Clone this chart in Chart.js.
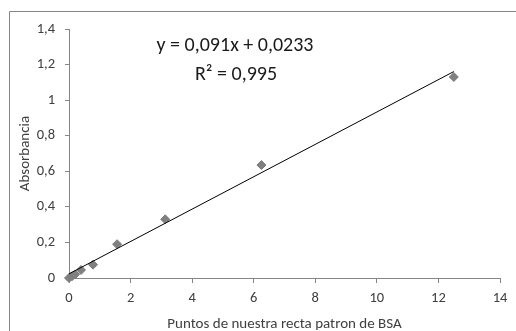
<!DOCTYPE html>
<html>
<head>
<meta charset="utf-8">
<script src="https://cdn.jsdelivr.net/npm/chart.js@4/dist/chart.umd.min.js"></script>
<style>
  html, body { margin: 0; padding: 0; background: #fff; }
  canvas { display: block; }
</style>
</head>
<body>
<canvas id="grafica" width="516" height="331"></canvas>
<script>
// puntos de la recta patrón de BSA
const concentraciones = [0, 0.098, 0.195, 0.39, 0.78, 1.5625, 3.125, 6.25, 12.5];
const absorbancias = [0, 0.01, 0.02, 0.045, 0.075, 0.19, 0.33, 0.635, 1.13];

// recta de ajuste (y = 0,091x + 0,0233)
const pendiente = 0.091;
const ordenada = 0.0233;
const rectaX = [0, 12.5];
const textoEcuacion = ['y = 0,091x + 0,0233', 'R\u00B2 = 0,995'];

const ticksX = [0, 2, 4, 6, 8, 10, 12, 14];
const ticksY = [0, 0.2, 0.4, 0.6, 0.8, 1, 1.2, 1.4];

const FUENTE = "Carlito, Lato, 'Liberation Sans', sans-serif";
const GRIS_EJE = '#868686';
const GRIS_TEXTO = '#404040';

const coma = v => String(Math.round(v * 10) / 10).replace('.', ',');

// marco exterior y texto de la ecuación
const marcoYTexto = {
    id: 'marcoYTexto',
    beforeDraw(chart) {
        const ctx = chart.ctx;
        ctx.save();
        ctx.strokeStyle = GRIS_EJE;
        ctx.lineWidth = 1;
        ctx.beginPath();
        ctx.moveTo(9.5, 340);
        ctx.lineTo(9.5, 11.5);
        ctx.lineTo(520, 11.5);
        ctx.stroke();
        ctx.restore();
    },
    afterDraw(chart) {
        const ctx = chart.ctx;
        ctx.save();
        ctx.fillStyle = '#1a1a1a';
        ctx.font = '20px ' + FUENTE;
        ctx.textAlign = 'center';
        ctx.textBaseline = 'middle';
        ctx.fillText(textoEcuacion[0], 235, 46);
        ctx.fillText(textoEcuacion[1], 236, 75);
        ctx.restore();
    }
};

new Chart(document.getElementById('grafica'), {
    data: {
        datasets: [{
            type: 'line',
            label: 'Lineal',
            data: rectaX.map(x => ({ x: x, y: pendiente * x + ordenada })),
            borderColor: '#000',
            borderWidth: 1,
            pointRadius: 0,
            fill: false,
            clip: false
        }, {
            type: 'scatter',
            label: 'Absorbancia',
            data: concentraciones.map((x, i) => ({ x: x, y: absorbancias[i] })),
            pointStyle: 'rectRot',
            pointRadius: 4.5,
            pointBackgroundColor: '#808080',
            pointBorderColor: '#7a7a7a',
            pointBorderWidth: 1,
            clip: false
        }]
    },
    options: {
        responsive: false,
        animation: false,
        layout: { padding: { left: 16, right: 16, top: 29, bottom: 0 } },
        plugins: {
            legend: { display: false },
            tooltip: { enabled: false }
        },
        scales: {
            x: {
                type: 'linear',
                min: 0,
                max: 14,
                afterBuildTicks: s => { s.ticks = ticksX.map(v => ({ value: v })); },
                afterFit: s => { s.height = 53; },
                border: { color: GRIS_EJE },
                grid: { drawOnChartArea: false, drawTicks: true, tickLength: 5, color: GRIS_EJE },
                ticks: {
                    padding: 7,
                    color: GRIS_TEXTO,
                    font: { family: FUENTE, size: 14.5 },
                    maxRotation: 0,
                    callback: v => coma(v)
                },
                title: {
                    display: true,
                    text: 'Puntos de nuestra recta patron de BSA',
                    color: GRIS_TEXTO,
                    font: { family: FUENTE, size: 15 },
                    padding: { top: 0, bottom: -2 }
                }
            },
            y: {
                type: 'linear',
                min: 0,
                max: 1.4,
                afterBuildTicks: s => { s.ticks = ticksY.map(v => ({ value: v })); },
                afterFit: s => { s.width = 53; },
                border: { color: GRIS_EJE },
                grid: { drawOnChartArea: false, drawTicks: true, tickLength: 4, color: GRIS_EJE },
                ticks: {
                    padding: 10,
                    color: GRIS_TEXTO,
                    font: { family: FUENTE, size: 14.5 },
                    callback: v => coma(v)
                },
                title: {
                    display: true,
                    text: 'Absorbancia',
                    color: GRIS_TEXTO,
                    font: { family: FUENTE, size: 15 },
                    padding: 0
                }
            }
        }
    },
    plugins: [marcoYTexto]
});
</script>
</body>
</html>
